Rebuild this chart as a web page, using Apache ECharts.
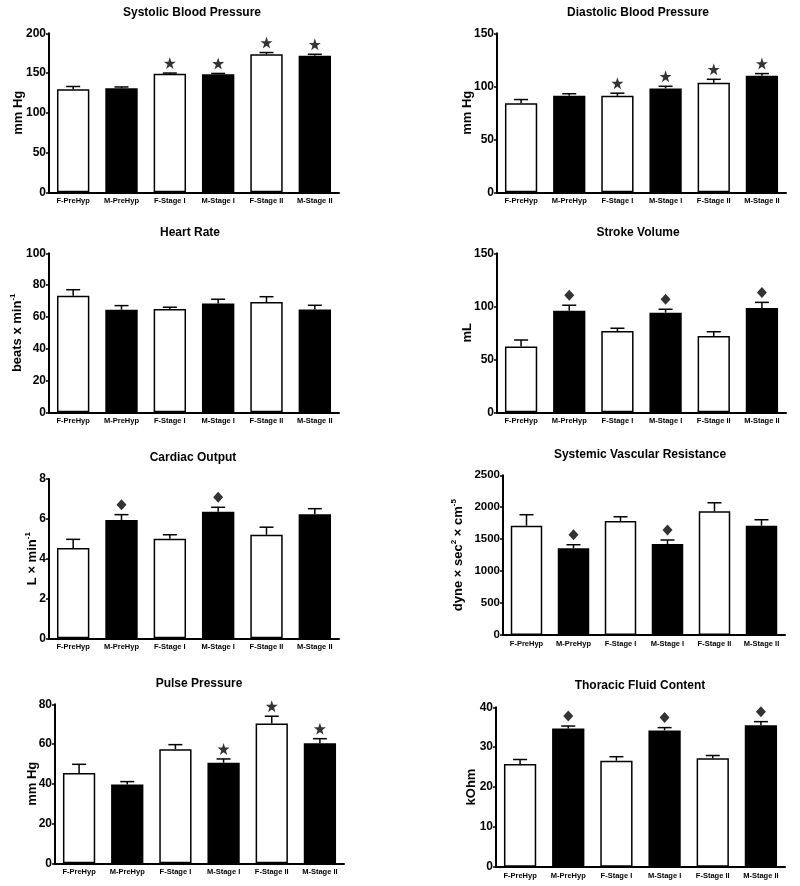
<!DOCTYPE html>
<html>
<head>
<meta charset="utf-8">
<script src="https://cdn.jsdelivr.net/npm/echarts@6/dist/echarts.min.js"></script>
<style>
html,body{margin:0;padding:0;background:#fff;}
#chart{width:800px;height:886px;}
</style>
</head>
<body>
<div id="chart"></div>
<script>
// ---------- DATA ----------
const categories = ['F-PreHyp', 'M-PreHyp', 'F-Stage I', 'M-Stage I', 'F-Stage II', 'M-Stage II'];

const sbpMean = [129.6, 131, 149, 148.5, 173.5, 171.8];
const sbpSem  = [3.5, 1.5, 1.0, 1.0, 2.3, 1.8];
const sbpMarks = [2, 3, 4, 5];

const dbpMean = [84, 91, 91, 98, 103.4, 110];
const dbpSem  = [3.5, 2, 2.5, 2, 3.2, 2];
const dbpMarks = [2, 3, 4, 5];

const hrMean = [73.3, 64.5, 65, 68.5, 69.4, 64.6];
const hrSem  = [3.8, 2.6, 1.1, 2.6, 3.3, 2.7];
const hrMarks = [];

const svMean = [62, 95.8, 76.7, 94, 72, 98.4];
const svSem  = [6.2, 5.2, 2.6, 3.2, 4, 5.3];
const svMarks = [1, 3, 5];

const coMean = [4.54, 5.94, 5.0, 6.35, 5.2, 6.23];
const coSem  = [0.43, 0.27, 0.2, 0.23, 0.38, 0.28];
const coMarks = [1, 3];

const svrMean = [1711, 1357, 1784, 1424, 1936, 1711];
const svrSem  = [172, 56, 67, 63, 134, 93];
const svrMarks = [1, 3];

const ppMean = [45.4, 39.7, 57.4, 50.6, 70.4, 60.4];
const ppSem  = [4.4, 1.4, 2.3, 1.9, 3.6, 2.3];
const ppMarks = [3, 4, 5];

const tfcMean = [25.8, 34.7, 26.6, 34.2, 27.2, 35.5];
const tfcSem  = [1.1, 0.6, 1.0, 0.7, 0.7, 0.9];
const tfcMarks = [1, 3, 5];

// ---------- PANELS ----------
const STAR = 'path://M50,0 L61.8,35.1 L98.1,35.1 L68.7,56.8 L79.4,91 L50,70 L20.6,91 L31.3,56.8 L1.9,35.1 L38.2,35.1 Z';
const FONT = '"Liberation Sans", Arial, Helvetica, sans-serif';

const panels = [
  {title: 'Systolic Blood Pressure', yName: 'mm Hg', mean: sbpMean, sem: sbpSem, marks: sbpMarks, mark: 'star',
   max: 200, interval: 50, grid: {left: 49, top: 33.3, width: 290, height: 159}, nameGap: 24, tick: 12, titlePos: [192, 7]},
  {title: 'Diastolic Blood Pressure', yName: 'mm Hg', mean: dbpMean, sem: dbpSem, marks: dbpMarks, mark: 'star',
   max: 150, interval: 50, grid: {left: 497, top: 33.3, width: 289, height: 159}, nameGap: 23.5, tick: 12, titlePos: [638, 7]},
  {title: 'Heart Rate', yName: '{n|beats x min}{s|-1}', mean: hrMean, sem: hrSem, marks: hrMarks, mark: 'star',
   max: 100, interval: 20, grid: {left: 49, top: 253.3, width: 290, height: 159}, nameGap: 23, tick: 12, titlePos: [190, 227]},
  {title: 'Stroke Volume', yName: 'mL', mean: svMean, sem: svSem, marks: svMarks, mark: 'diamond',
   max: 150, interval: 50, grid: {left: 497, top: 253.3, width: 289, height: 159}, nameGap: 23.5, tick: 12, titlePos: [638, 227]},
  {title: 'Cardiac Output', yName: '{n|L \u00d7 min}{s|-1}', mean: coMean, sem: coSem, marks: coMarks, mark: 'diamond',
   max: 8, interval: 2, grid: {left: 49, top: 479, width: 290, height: 159.3}, nameGap: 8, tick: 12, titlePos: [193, 452]},
  {title: 'Systemic Vascular Resistance', yName: '{n|dyne \u00d7 sec}{s|2}{n| \u00d7 cm}{s|-5}', mean: svrMean, sem: svrSem, marks: svrMarks, mark: 'diamond',
   max: 2500, interval: 500, grid: {left: 503, top: 475.3, width: 282, height: 159.7}, nameGap: 36.5, tick: 11.5, titlePos: [640, 449]},
  {title: 'Pulse Pressure', yName: 'mm Hg', mean: ppMean, sem: ppSem, marks: ppMarks, mark: 'star',
   max: 80, interval: 20, grid: {left: 55, top: 704.3, width: 289, height: 159}, nameGap: 16, tick: 12, titlePos: [199, 678]},
  {title: 'Thoracic Fluid Content', yName: 'kOhm', mean: tfcMean, sem: tfcSem, marks: tfcMarks, mark: 'diamond',
   max: 40, interval: 10, grid: {left: 496, top: 707.3, width: 289, height: 159.4}, nameGap: 18, tick: 12, titlePos: [640, 680]}
];

const option = {
  animation: false,
  backgroundColor: '#ffffff',
  title: [], grid: [], xAxis: [], yAxis: [], series: []
};

panels.forEach(function (p, k) {
  option.title.push({
    text: p.title, left: p.titlePos[0], top: p.titlePos[1], textAlign: 'center', padding: 0,
    textStyle: {fontFamily: FONT, fontWeight: 'bold', fontSize: 12, color: '#000'}
  });
  option.grid.push({left: p.grid.left, top: p.grid.top, width: p.grid.width, height: p.grid.height, containLabel: false});
  option.xAxis.push({
    type: 'category', gridIndex: k, data: categories,
    axisLine: {show: true, lineStyle: {color: '#000', width: 2}},
    axisTick: {show: false},
    axisLabel: {fontFamily: FONT, fontWeight: 'bold', fontSize: 7.5, color: '#000', margin: 5, interval: 0},
    splitLine: {show: false}
  });
  option.yAxis.push({
    type: 'value', gridIndex: k, min: 0, max: p.max, interval: p.interval,
    name: p.yName, nameLocation: 'middle', nameGap: p.nameGap, nameMoveOverlap: false,
    nameTextStyle: {
      fontFamily: FONT, fontWeight: 'bold', fontSize: 13, color: '#000',
      rich: {
        n: {fontFamily: FONT, fontWeight: 'bold', fontSize: 13, color: '#000'},
        s: {fontFamily: FONT, fontWeight: 'bold', fontSize: 8, color: '#000', padding: [0, 0, 9, 0]}
      }
    },
    axisLine: {show: true, lineStyle: {color: '#000', width: 2}},
    axisTick: {show: true, length: 3, lineStyle: {color: '#000', width: 1.5}},
    axisLabel: {fontFamily: FONT, fontWeight: 'bold', fontSize: p.tick, color: '#000', margin: 3,
      formatter: function (v) { return String(v); }},
    splitLine: {show: false}
  });
  option.series.push({
    type: 'bar', xAxisIndex: k, yAxisIndex: k, barWidth: '67%',
    data: p.mean.map(function (v, i) {
      return {value: v, itemStyle: {color: i % 2 === 0 ? '#ffffff' : '#000000', borderColor: '#000', borderWidth: 1.5}};
    }),
    z: 2
  });
  option.series.push({
    type: 'custom', xAxisIndex: k, yAxisIndex: k, z: 3,
    data: p.mean.map(function (v, i) { return [i, v, v + p.sem[i]]; }),
    renderItem: function (params, api) {
      const base = api.coord([api.value(0), api.value(1)]);
      const top = api.coord([api.value(0), api.value(2)]);
      const hw = 7;
      return {
        type: 'group',
        children: [
          {type: 'line', shape: {x1: base[0], y1: base[1], x2: top[0], y2: top[1]}, style: {stroke: '#000', lineWidth: 1.5}},
          {type: 'line', shape: {x1: top[0] - hw, y1: top[1], x2: top[0] + hw, y2: top[1]}, style: {stroke: '#000', lineWidth: 1.5}}
        ]
      };
    }
  });
  option.series.push({
    type: 'scatter', xAxisIndex: k, yAxisIndex: k, z: 4,
    symbol: p.mark === 'star' ? STAR : 'diamond',
    symbolSize: p.mark === 'star' ? 12 : [10, 11],
    symbolOffset: [0, -10],
    itemStyle: {color: '#000'},
    data: p.marks.map(function (i) { return [i, p.mean[i] + p.sem[i]]; })
  });
});

const chart = echarts.init(document.getElementById('chart'), null, {renderer: 'canvas'});
chart.setOption(option);
</script>
</body>
</html>
